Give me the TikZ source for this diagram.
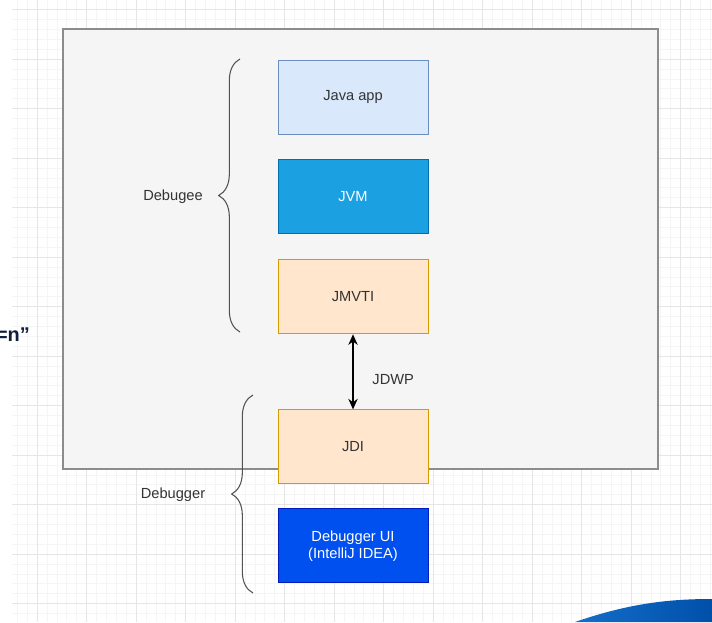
\documentclass[tikz,border=0pt]{standalone}
\usepackage{fontspec}
\setmainfont{Liberation Sans}
\usetikzlibrary{arrows.meta,positioning,decorations.pathreplacing}
\usepackage{xcolor}
\definecolor{GridMinor}{RGB}{245,245,245}
\definecolor{GridMajor}{RGB}{230,230,230}
\definecolor{PanelFill}{RGB}{245,245,245}
\definecolor{PanelLine}{RGB}{140,140,140}
\definecolor{AppFill}{RGB}{218,232,252}
\definecolor{AppLine}{RGB}{108,142,191}
\definecolor{VmFill}{RGB}{27,161,226}
\definecolor{VmLine}{RGB}{0,110,175}
\definecolor{AgentFill}{RGB}{255,230,204}
\definecolor{AgentLine}{RGB}{215,155,0}
\definecolor{UiFill}{RGB}{0,80,239}
\definecolor{UiLine}{RGB}{0,29,188}
\definecolor{TextDark}{RGB}{51,51,51}
\definecolor{SlideNavy}{RGB}{16,30,60}
\definecolor{SwooshLight}{RGB}{20,110,200}
\definecolor{SwooshDark}{RGB}{0,80,170}
\tikzset{
  layerbox/.style={line width=0.8pt, minimum width=4.5cm, minimum height=2.22cm,
    align=center, font=\fontsize{12.5}{14.5}\selectfont},
  appbox/.style={layerbox, draw=AppLine, fill=AppFill, text=TextDark},
  vmbox/.style={layerbox, draw=VmLine, fill=VmFill, text=white},
  agentbox/.style={layerbox, draw=AgentLine, fill=AgentFill, text=TextDark},
  uibox/.style={layerbox, draw=UiLine, fill=UiFill, text=white},
  sidelabel/.style={text=TextDark, font=\fontsize{12.5}{14.5}\selectfont},
  bracket/.style={decorate, decoration={brace, amplitude=0.64cm, aspect=0.5},
    line width=0.9pt, TextDark!85},
  wire/.style={{Stealth[length=9pt,width=8pt]}-{Stealth[length=9pt,width=8pt]}, line width=0.9pt, black}
}

\begin{document}
\begin{tikzpicture}[x=0.03cm, y=-0.03cm, node distance=0.75cm]
  \useasboundingbox (0,0) rectangle (712,622);
  \fill[white] (0,0) rectangle (712,622);
  % background grid
  \foreach \gx in {17.2,27.1,...,712} \draw[GridMinor, line width=0.5pt] (\gx,0) -- (\gx,622);
  \foreach \gy in {9.5,19.4,...,622} \draw[GridMinor, line width=0.5pt] (12,\gy) -- (712,\gy);
  \foreach \gx in {37,86.5,...,712} \draw[GridMajor, line width=0.6pt] (\gx,0) -- (\gx,622);
  \foreach \gy in {9.5,59,...,622} \draw[GridMajor, line width=0.6pt] (12,\gy) -- (712,\gy);

  % slide leftovers
  \node[anchor=east, text=SlideNavy, font=\fontsize{17}{20}\selectfont\bfseries] (cut) at (34,335) {=n”};
  \shade[left color=SwooshLight, right color=SwooshDark]
    (575,622) .. controls (630,603) and (670,599) .. (712,599) -- (712,622) -- cycle;

  % process panel
  \draw[PanelLine, fill=PanelFill, line width=1.5pt] (63,29) rectangle (658,469);

  \node[appbox] (app) at (353,97) {Java app};
  \node[vmbox, below=of app] (jvm) {JVM};
  \node[agentbox, below=of jvm] (jmvti) {JMVTI};
  \node[agentbox, below=2.25cm of jmvti] (jdi) {JDI};
  \node[uibox, below=0.72cm of jdi] (ui) {Debugger UI\\(IntelliJ IDEA)};

  \draw[wire] (jmvti) -- node[pos=0.6, right=0.45cm, sidelabel] {JDWP} (jdi);

  % braces
  \coordinate (eeLow) at (240,332);
  \coordinate (eeHigh) at (240,59);
  \coordinate (erLow) at (253,593);
  \coordinate (erHigh) at (253,395);
  \draw[bracket] (eeLow) -- (eeHigh);
  \draw[bracket] (erLow) -- (erHigh);
  \node[sidelabel] (debugee) at (173,197) {Debugee};
  \node[sidelabel] (debugger) at (173,495) {Debugger};
\end{tikzpicture}
\end{document}
